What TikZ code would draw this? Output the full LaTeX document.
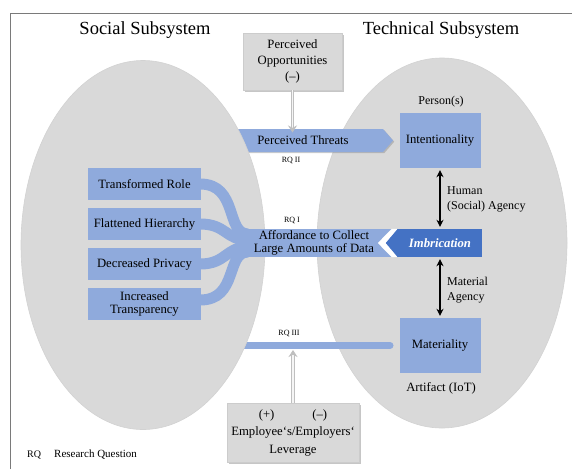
\documentclass[tikz,border=0pt]{standalone}
\usepackage{fontspec}
\setmainfont{Liberation Serif}
\usetikzlibrary{positioning,calc,arrows.meta,shadows}
\definecolor{ellgray}{HTML}{D9D9D9}
\definecolor{boxblue}{HTML}{8FAADC}
\definecolor{imbblue}{HTML}{4472C4}
\definecolor{framegray}{HTML}{7A7A7A}
\newcommand{\boxfont}{\fontsize{12.7}{14}\selectfont}
\tikzset{
  subsys/.style={fill=ellgray,draw=gray!35,line width=.6pt},
  bluebox/.style={fill=boxblue,font=\boxfont,align=center,inner sep=0pt},
  graybox/.style={fill=ellgray,draw=gray!40,align=center,inner sep=0pt,
    drop shadow={shadow xshift=1.6pt,shadow yshift=-1.6pt,fill=gray,opacity=.45}},
  ribbon/.style={draw=boxblue,line width=11pt},
  agency/.style={{Stealth[length=7pt,width=7pt]}-{Stealth[length=7pt,width=7pt]},line width=1.3pt,shorten <=2pt,shorten >=2pt},
  push/.style={draw=gray!50,double=gray!8,double distance=1.8pt,line width=.8pt,-{Stealth[length=7pt,width=9pt]}},
  rq/.style={font=\fontsize{8}{9}\selectfont},
  lbl/.style={font=\fontsize{12}{15}\selectfont,align=left,anchor=west,inner sep=0pt}
}
\begin{document}
\begin{tikzpicture}[x=1pt,y=-1pt]
            \useasboundingbox (0,0) rectangle (572,469);
            \draw[framegray,line width=1pt] (10,469) -- (10,13) -- (572,13);
            \node[font=\fontsize{18.5}{20}\selectfont] (social) at (145,30) {Social Subsystem};
            \node[font=\fontsize{18.5}{20}\selectfont] (technical) at (441,30) {Technical Subsystem};
            % subsystems and the bars that run under the left one
            \draw[subsys] (442,243) ellipse [x radius=125pt,y radius=185pt];
            \fill[boxblue,drop shadow={shadow xshift=1.2pt,shadow yshift=-1.2pt,fill=gray,opacity=.4}]
              (200,129) -- (383,129) -- (393,140.5) -- (383,152) -- (200,152) -- cycle;
            \draw[boxblue,line width=7pt,line cap=round] (200,345.5) -- (390,345.5);
            \draw[subsys] (143,245) ellipse [x radius=122pt,y radius=184.5pt];
            \node[font=\boxfont] (threats) at (303,140.5) {Perceived Threats};
            \coordinate (barlow) at (292.5,350);
            \foreach \txt [count=\i] in {Transformed Role,Flattened Hierarchy,Decreased Privacy,{Increased\\[-1pt]Transparency}} {
              \node[bluebox,minimum width=113pt,minimum height=32pt] (effect\i) at (144.5,{144+40*\i}) {\txt};
            }
            \node[bluebox,minimum width=138pt,minimum height=28pt] (afford) at (314,243) {Affordance to Collect\\[-1pt]Large Amounts of Data};
            \fill[boxblue] (afford.north east) rectangle ($(afford.south east)+(15,0)$);
            \foreach \i/\sy/\ey/\c in {1/0/-9/38,2/0/-3/26,3/0/4/26,4/-4/9/38} {
              \draw[ribbon] ($(effect\i.east)+(-1,\sy)$) .. controls +(\c,0) and +(-22,0) .. ($(afford.west)+(3,\ey)$);
            }
            \node[fill=imbblue,text=white,font=\boxfont\bfseries\itshape,minimum width=84pt,minimum height=28pt,inner sep=0pt] (imbr) at (440,243) {Imbrication};
            \fill[white] ($(imbr.north west)+(-6,0)$) -- ($(imbr.west)+(-20,0)$) -- ($(imbr.south west)+(-6,0)$)
              -- (imbr.south west) -- ($(imbr.west)+(-12,0)$) -- (imbr.north west) -- cycle;
            \fill[imbblue] (imbr.north west) -- ($(imbr.west)+(-12,0)$) -- (imbr.south west) -- cycle;
            \node[bluebox,minimum width=81pt,minimum height=55pt] (intent) at (440,140.5) {Intentionality};
            \node[bluebox,minimum width=81pt,minimum height=55pt] (mater) at (440,345.5) {Materiality};
            \node[font=\fontsize{12}{14}\selectfont] (person) at (441,102) {Person(s)};
            \node[font=\boxfont] (artifact) at (441,388) {Artifact (IoT)};
            \draw[agency] (intent.south) -- (imbr.north);
            \draw[agency] (imbr.south) -- (mater.north);
            \node[lbl] (human) at (447,199) {Human\\(Social) Agency};
            \node[lbl] (material) at (447,290) {Material\\Agency};
            \node[rq] (rq1) at (292,220) {RQ I};
            \node[rq] (rq2) at (291,160) {RQ II};
            \node[rq] (rq3) at (289,333) {RQ III};
            % moderating factors
            \node[graybox,font=\fontsize{12.7}{16}\selectfont,minimum width=99pt,minimum height=57pt] (opp) at (292.5,61.5) {Perceived\\Opportunities\\(–)};
            \node[graybox,font=\fontsize{12.7}{17.5}\selectfont,minimum width=132pt,minimum height=59pt] (lever) at (293,432.5) {(+)\hspace{38pt}(–)\\Employee‘s/Employers‘\\Leverage};
            \draw[push] (opp.south) -- (opp.south |- threats.north);
            \draw[push] (lever.north) -- (lever.north |- barlow);
            \node[font=\fontsize{10}{12}\selectfont,anchor=west,inner sep=0pt] (rqkey) at (27,455) {RQ};
            \node[font=\fontsize{11}{13}\selectfont,anchor=west,inner sep=0pt] (rqtext) at (54,455) {Research Question};
          \end{tikzpicture}
\end{document}
